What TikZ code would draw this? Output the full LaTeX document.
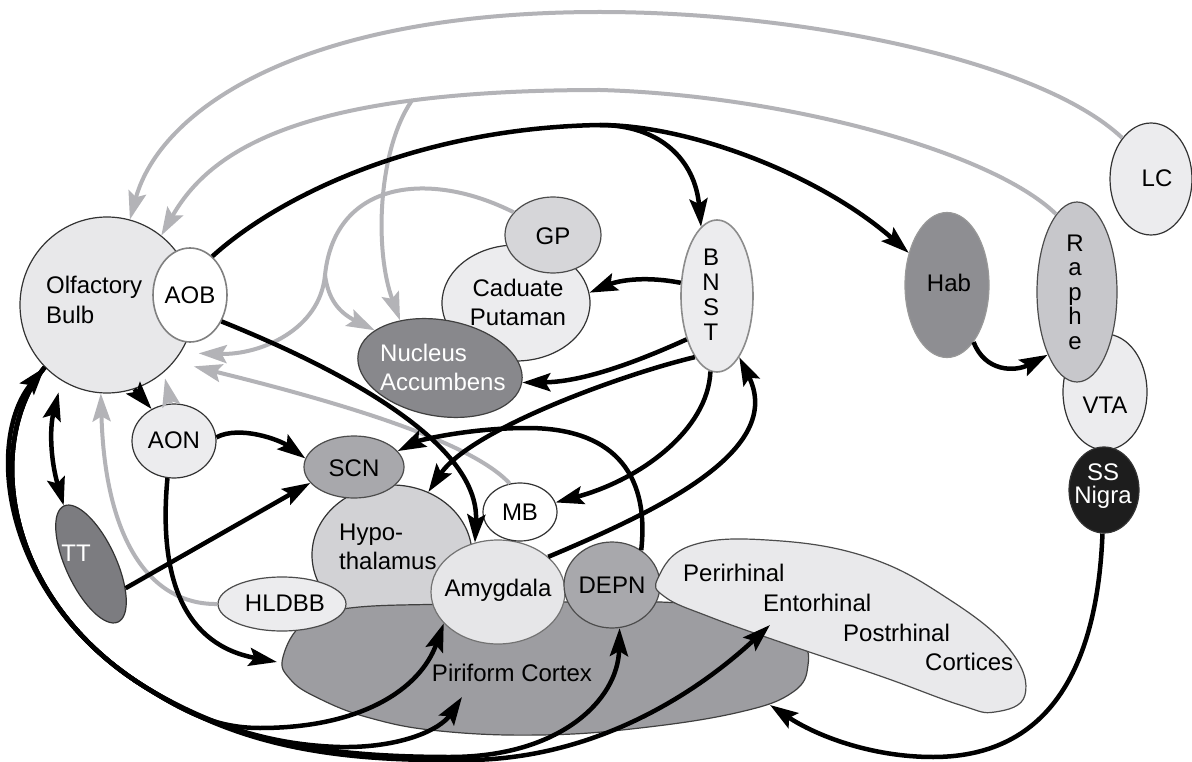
\documentclass[tikz,border=0pt]{standalone}
\usepackage{fontspec}
\setmainfont{Liberation Sans}
\usetikzlibrary{shapes.geometric, arrows.meta}
\definecolor{obfill}{HTML}{E8E8EA}
\definecolor{cfill}{HTML}{ECECEE}
\definecolor{gpfill}{HTML}{D6D6D9}
\definecolor{naccfill}{HTML}{88888C}
\definecolor{habfill}{HTML}{8E8E92}
\definecolor{raphefill}{HTML}{C7C7CB}
\definecolor{nigrafill}{HTML}{1D1D1D}
\definecolor{ttfill}{HTML}{7C7C80}
\definecolor{hypfill}{HTML}{D2D2D5}
\definecolor{scnfill}{HTML}{A8A8AC}
\definecolor{amyfill}{HTML}{E6E6E8}
\definecolor{pirfill}{HTML}{9D9DA1}
\definecolor{perifill}{HTML}{E9E9EB}
\definecolor{arrgray}{HTML}{B3B3B7}
\tikzstyle{region}=[ellipse, draw=black!80, line width=1.2pt, inner sep=0pt]
\tikzstyle{txt}=[inner sep=0pt, font=\fontsize{24}{29}\selectfont]
\tikzstyle{conn}=[line width=4.5pt, ->]
\tikzstyle{bconn}=[line width=4.5pt, <->]
\tikzstyle{gline}=[line width=4pt, draw=arrgray]
\tikzstyle{gconn}=[gline, ->]

\begin{document}
\begin{tikzpicture}[x=1pt, y=-1pt, >={Stealth[length=28pt,width=18pt,inset=5pt]}]
  \path[use as bounding box, fill=white] (0,0) rectangle (1192,762);
  % Regiones
  \node[region, fill=obfill, minimum width=174pt, minimum height=176pt] (ob) at (107,305) {};
  \node[region, fill=white, draw=black!50, line width=1.6pt, minimum width=74pt, minimum height=94pt] (aob) at (190,295) {};
  \node[region, fill=cfill, minimum width=148pt, minimum height=116pt] (cp) at (516,303) {};
  \node[region, fill=gpfill, draw=black!70, minimum width=96pt, minimum height=76pt] (gp) at (553,235) {};
  \node[region, fill=naccfill, draw=black!75, minimum width=166pt, minimum height=96pt, rotate=-10] (nacc) at (440,368) {};
  \node[region, fill=cfill, draw=black!45, line width=1.6pt, minimum width=72pt, minimum height=152pt] (bnst) at (717,296) {};
  \node[region, fill=habfill, draw=black!40, minimum width=84pt, minimum height=145pt] (hab) at (947,285) {};
  \node[region, fill=cfill, minimum width=82pt, minimum height=112pt] (lc) at (1151,179) {};
  \node[region, fill=cfill, minimum width=84pt, minimum height=116pt] (vta) at (1105,392) {};
  \node[region, fill=raphefill, draw=black!70, minimum width=80pt, minimum height=180pt] (raphe) at (1077,292) {};
  \node[region, fill=nigrafill, minimum width=70pt, minimum height=86pt] (ssn) at (1104,490) {};
  \node[region, fill=cfill, minimum width=84pt, minimum height=74pt] (aon) at (174,441) {};
  \node[region, fill=ttfill, minimum width=50pt, minimum height=128pt, rotate=25] (tt) at (91,564) {};
  \node[region, fill=hypfill, minimum width=160pt, minimum height=140pt] (hyp) at (392,555) {};
  \draw[fill=pirfill, draw=black!75, line width=1.2pt] plot[smooth cycle, tension=.7] coordinates {(283,657) (305,622) (350,608) (450,604) (560,602) (680,603) (760,615) (800,640) (808,665) (793,692) (740,712) (640,728) (540,735) (440,731) (370,718) (318,698) (290,679)};
  \node[region, fill=scnfill, draw=black!70, minimum width=100pt, minimum height=62pt] (scn) at (354,467) {};
  \node[region, fill=cfill, draw=black!70, minimum width=128pt, minimum height=54pt] (hldbb) at (282,604) {};
  \node[region, fill=amyfill, draw=black!55, minimum width=134pt, minimum height=104pt] (amy) at (498,592) {};
  \node[region, fill=scnfill, draw=black!70, minimum width=96pt, minimum height=86pt] (depn) at (612,585) {};
  \draw[fill=perifill, draw=black!70, line width=1.2pt] plot[smooth cycle, tension=.7] coordinates {(658,578) (690,546) (767,540) (867,557) (950,600) (1010,650) (1025,695) (995,712) (960,705) (883,677) (783,643) (710,617) (665,597)};
  \node[region, fill=white, minimum width=74pt, minimum height=58pt] (mb) at (520,512) {};
  % Textos
  \node[txt, align=left, anchor=west, font=\fontsize{24}{30}\selectfont] (ob-t) at (46,300) {Olfactory\\Bulb};
  \node[txt] (aob-t) at (190,295) {AOB};
  \node[txt] (gp-t) at (553,236) {GP};
  \node[txt, align=center] (cp-t) at (518,302) {Caduate\\Putaman};
  \node[txt, align=left, anchor=west, text=white] (nacc-t) at (380,367) {Nucleus\\Accumbens};
  \node[txt, align=center, font=\fontsize{24}{25}\selectfont] (bnst-t) at (711,295) {B\\N\\S\\T};
  \node[txt] (hab-t) at (949,283) {Hab};
  \node[txt, align=center, font=\fontsize{24}{24.5}\selectfont] (raphe-t) at (1075,292) {R\\a\\p\\h\\e};
  \node[txt] (lc-t) at (1157,178) {LC};
  \node[txt] (vta-t) at (1105,405) {VTA};
  \node[txt, align=center, text=white, font=\fontsize{24}{23}\selectfont] (ssn-t) at (1103,486) {SS\\Nigra};
  \node[txt] (aon-t) at (174,440) {AON};
  \node[txt, text=white] (tt-t) at (76,553) {TT};
  \node[txt] (scn-t) at (354,468) {SCN};
  \node[txt, align=left, anchor=west] (hyp-t) at (339,547) {Hypo-\\thalamus};
  \node[txt] (mb-t) at (520,512) {MB};
  \node[txt] (amy-t) at (498,590) {Amygdala};
  \node[txt] (depn-t) at (612,585) {DEPN};
  \node[txt] (hldbb-t) at (285,603) {HLDBB};
  \node[txt] (pir-t) at (512,673) {Piriform Cortex};
  \node[txt, anchor=west] (peri-t) at (683,573) {Perirhinal};
  \node[txt, anchor=west] (ento-t) at (763,603) {Entorhinal};
  \node[txt, anchor=west] (post-t) at (843,633) {Postrhinal};
  \node[txt, anchor=west] (cort-t) at (925,662) {Cortices};
  \coordinate (fork) at (600,125);
  \coordinate (gsplit) at (325,275);
  \coordinate (pirL) at (277,662);
  \coordinate (pirA) at (462,697);
  \coordinate (pirR) at (770,705);
  \coordinate (entA) at (770,625);
  % Conexiones grises
  \draw[gconn] (lc.125) .. controls (1040,60) and (800,12) .. (600,12) .. controls (300,12) and (160,110) .. (ob.75);
  \draw[gconn] (raphe.105) .. controls (990,150) and (780,95) .. (600,90) .. controls (300,90) and (210,150) .. (ob.52) coordinate[pos=.25] (rsplit);
  \draw[gconn] (rsplit) .. controls (378,150) and (374,250) .. (nacc.140);
  \draw[gline] (gp.150) .. controls (430,170) and (335,180) .. (gsplit);
  \draw[gconn] (gsplit) .. controls (328,298) and (338,312) .. (nacc.160);
  \draw[gconn, shorten >=18pt] (gsplit) .. controls (320,330) and (260,355) .. (ob.-33);
  \draw[gconn, shorten >=20pt] (mb.110) .. controls (470,440) and (330,400) .. (ob.-40);
  \draw[gconn] (hldbb.180) .. controls (150,605) and (105,540) .. (ob.-94);
  \draw[gconn, shorten >=6pt] (aon.95) -- (ob.-50);
  % Conexiones negras
  \draw[conn] (ob.-72) -- (aon.125);
  \draw[line width=4.5pt] (aob.60) .. controls (280,195) and (420,128) .. (fork);
  \draw[conn] (fork) .. controls (660,125) and (695,160) .. (bnst.103);
  \draw[conn] (fork) .. controls (690,125) and (820,175) .. (hab.140);
  \draw[conn] (aob.-40) .. controls (330,365) and (480,440) .. (amy.115);
  \draw[conn] (bnst.160) .. controls (640,275) and (615,282) .. (cp.8);
  \draw[conn] (bnst.-125) .. controls (630,365) and (580,382) .. (nacc.0);
  \draw[conn] (bnst.-110) .. controls (620,375) and (470,430) .. (hyp.60);
  \draw[conn] (bnst.-95) .. controls (708,430) and (640,480) .. (mb.15);
  \draw[conn] (amy.35) .. controls (660,510) and (785,450) .. (bnst.-70);
  \draw[conn] (depn.50) .. controls (650,470) and (610,428) .. (527,428) .. controls (470,428) and (420,440) .. (scn.20);
  \draw[conn] (aon.5) .. controls (240,425) and (280,440) .. (scn.170);
  \draw[conn] (tt.-60) -- (scn.-160);
  \draw[bconn, shorten <=12pt] (ob.-121) to[bend right=15] (tt.90);
  \draw[conn] (aon.-100) .. controls (158,580) and (185,645) .. (pirL);
  \draw[conn] (hab.-65) .. controls (985,372) and (1015,372) .. (raphe.-115);
  \draw[conn] (ssn.-92) .. controls (1098,650) and (1060,757) .. (933,757) .. controls (870,757) and (815,735) .. (pirR);
  \draw[bconn] (ob.-135) .. controls (-15,440) and (0,600) .. (150,690) .. controls (240,745) and (330,762) .. (470,760) .. controls (600,758) and (700,690) .. (entA);
  \draw[conn] (ob.-135) .. controls (-15,440) and (0,600) .. (150,690) .. controls (230,740) and (320,757) .. (450,757) .. controls (560,757) and (618,700) .. (depn.-80);
  \draw[conn] (ob.-135) .. controls (-15,440) and (0,600) .. (150,690) .. controls (210,725) and (270,745) .. (340,747) .. controls (400,748) and (440,730) .. (pirA);
  \draw[conn] (ob.-135) .. controls (-15,440) and (0,600) .. (150,690) .. controls (190,715) and (220,728) .. (260,728) .. controls (360,728) and (420,690) .. (amy.-150);
\end{tikzpicture}
\end{document}
